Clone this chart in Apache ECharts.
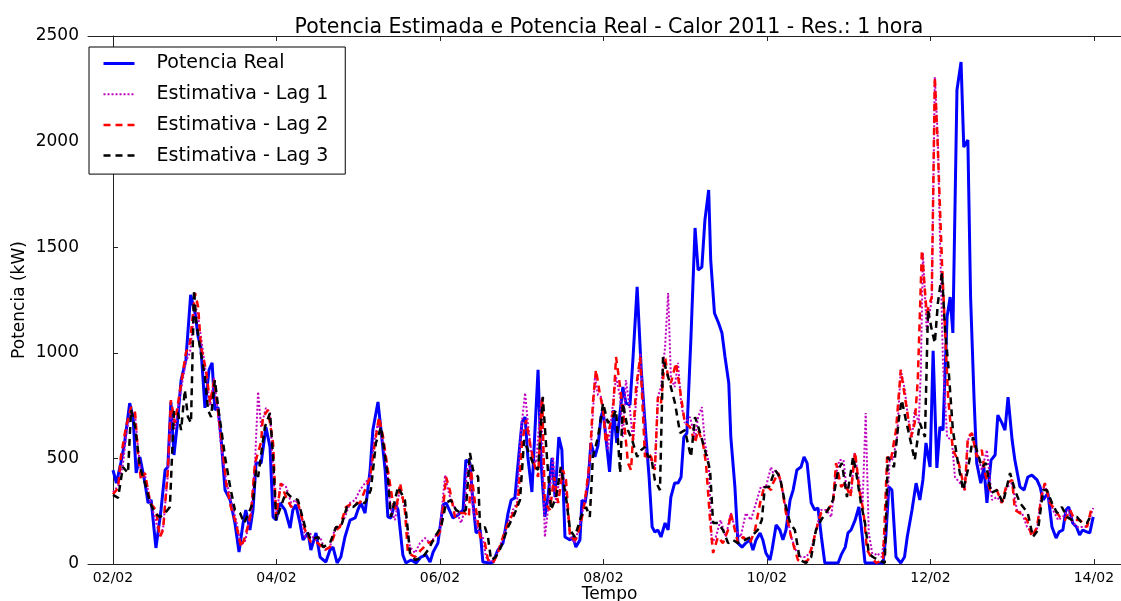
<!DOCTYPE html>
<html>
<head>
<meta charset="utf-8">
<script src="https://cdn.jsdelivr.net/npm/echarts@6/dist/echarts.min.js"></script>
<style>html,body{margin:0;padding:0;background:#fff}#c{width:1121px;height:601px}</style>
</head>
<body>
<div id="c"></div>
<script>
// hours since 02/02 00:00 -> kW
const tickHours = [0, 48, 96, 144, 192, 240, 288];
const tickLabels = ['02/02', '04/02', '06/02', '08/02', '10/02', '12/02', '14/02'];
const seriesNames = ['Potencia Real', 'Estimativa - Lag 1', 'Estimativa - Lag 2', 'Estimativa - Lag 3'];

const realData = [[0,445],[1,383],[2.3,478],[3.4,573],[4.9,762],[5.9,696],[6.8,431],[7.9,507],[9.4,383],[10.3,289],[11.2,303],[12.6,76],[14.1,256],[15.3,445],[16.1,459],[17.0,767],[17.9,516],[18.8,649],[20.0,871],[21.4,966],[22.8,1274],[24.1,1188],[25.0,1075],[25.8,1028],[27.0,739],[28.2,919],[29.1,952],[29.9,729],[30.8,743],[31.7,601],[32.9,350],[34.4,303],[35.8,194],[37.0,57],[38.2,194],[39.0,256],[40.2,161],[41.1,256],[42.0,478],[43.5,478],[44.9,649],[46.1,554],[47.0,223],[47.9,208],[49.0,289],[50.5,256],[52.0,170],[52.8,256],[53.7,280],[54.9,194],[55.8,114],[57.3,147],[58.1,66],[59.6,147],[60.8,33],[62.5,9],[63.7,66],[64.6,80],[65.8,5],[66.9,33],[68.1,128],[69.6,208],[71.1,218],[71.9,256],[72.8,289],[74.0,241],[75.5,445],[76.3,634],[77.8,767],[78.7,634],[79.9,445],[80.7,223],[81.6,218],[82.8,289],[83.7,256],[85.1,43],[86.0,5],[87.5,19],[89.0,5],[90.4,33],[91.9,43],[93.1,9],[94.0,57],[95.4,99],[96.9,280],[97.8,289],[99.8,218],[101.3,232],[102.8,256],[103.6,492],[104.8,478],[105.7,289],[106.6,147],[107.8,161],[108.6,9],[110.7,5],[111.6,9],[113.0,66],[114.5,99],[116.0,241],[116.9,303],[118.0,313],[119.5,573],[120.1,672],[121.0,696],[121.8,507],[123.0,341],[123.9,634],[124.8,919],[125.7,478],[126.8,223],[127.7,317],[128.9,502],[129.8,317],[130.9,601],[131.8,540],[132.7,128],[134.2,114],[135.1,128],[135.9,80],[137.1,114],[137.7,303],[138.6,289],[139.5,383],[140.3,573],[141.5,507],[142.4,560],[143.3,696],[143.9,729],[144.7,601],[145.8,436],[147.0,729],[147.9,573],[149.7,838],[150.6,762],[151.8,753],[152.7,980],[153.9,1312],[155.1,919],[156.5,601],[157.4,412],[158.3,175],[159.1,152],[160.0,161],[160.9,128],[162.1,194],[163.0,161],[163.8,317],[164.9,383],[165.9,383],[166.8,412],[167.6,601],[168.5,620],[169.7,1075],[170.9,1591],[171.8,1392],[172.9,1406],[173.8,1629],[174.9,1771],[175.5,1439],[176.6,1188],[177.8,1141],[178.8,1094],[179.7,980],[180.8,857],[181.4,601],[182.6,365],[183.5,99],[184.7,80],[185.8,99],[187.0,114],[187.9,66],[188.8,114],[190.0,147],[190.8,114],[191.7,52],[192.9,19],[193.5,66],[194.7,185],[195.8,161],[196.7,114],[197.6,161],[198.8,303],[199.7,350],[200.8,445],[202.0,459],[202.9,507],[203.8,478],[205.0,289],[206.0,256],[207.0,265],[208.0,128],[209.0,5],[212.9,5],[213.8,43],[215.0,80],[215.8,147],[216.7,161],[217.9,208],[219.0,270],[219.6,194],[220.8,5],[226.1,5],[226.9,128],[227.8,365],[228.7,350],[229.9,33],[231.3,5],[232.4,33],[233.2,128],[234.6,256],[235.8,383],[236.9,303],[237.8,398],[238.7,573],[239.9,459],[240.8,1010],[241.9,455],[242.8,649],[243.7,634],[244.9,1170],[245.8,1264],[246.6,1094],[247.8,2244],[249.0,2377],[249.8,1974],[251.0,2008],[251.8,1264],[252.8,791],[253.6,478],[254.8,383],[255.7,459],[256.6,289],[257.8,492],[259.0,516],[259.8,705],[261.0,668],[261.9,634],[262.8,790],[264.0,587],[264.8,492],[266.3,365],[267.5,350],[268.6,412],[269.8,421],[271.3,398],[272.2,365],[273.1,303],[274.5,336],[275.7,175],[276.9,123],[277.8,152],[278.9,161],[279.8,256],[280.6,270],[281.8,194],[282.9,175],[283.8,137],[284.7,161],[285.9,152],[286.8,147],[287.8,223]];

const lag1Data = [[0,340],[1.5,370],[2.9,470],[4.1,640],[5.3,720],[6.5,700],[7.3,560],[8.2,430],[9.4,420],[10.9,300],[12.6,200],[13.8,130],[14.7,170],[16.1,420],[17.0,720],[18.2,640],[19.7,800],[21.4,960],[22.6,1000],[24.1,1230],[25.0,1170],[25.8,1080],[27.3,900],[28.5,750],[29.7,880],[30.8,720],[31.7,560],[33.2,400],[34.6,300],[36.1,210],[37.6,90],[38.8,110],[40.5,230],[41.7,480],[42.6,815],[43.5,649],[44.9,739],[46.1,715],[47.0,445],[47.9,223],[49.3,383],[50.8,365],[52.3,289],[53.7,303],[55.2,241],[56.4,128],[57.8,147],[59.3,114],[60.8,128],[62.2,66],[63.7,80],[65.2,170],[66.6,175],[68.1,223],[69.6,289],[71.1,303],[72.5,350],[74.0,383],[75.5,412],[76.6,573],[77.8,668],[79.3,573],[80.2,492],[81.6,256],[82.8,208],[84.3,365],[85.7,256],[87.2,80],[88.7,52],[90.1,99],[91.6,123],[93.1,99],[94.5,128],[96.0,161],[97.5,421],[98.4,350],[99.2,303],[100.7,256],[102.2,194],[103.3,256],[103.9,445],[104.8,478],[105.7,256],[107.2,161],[108.6,128],[109.5,33],[111.0,9],[112.4,33],[113.9,99],[116.0,194],[117.4,256],[118.6,289],[119.8,634],[121.0,810],[121.8,668],[123.0,507],[124.2,478],[125.7,776],[126.8,128],[127.7,256],[129.2,507],[130.1,289],[131.5,459],[132.7,383],[134.2,128],[135.6,99],[137.1,194],[138.6,303],[139.5,412],[140.3,540],[141.5,885],[142.4,800],[143.3,791],[143.9,743],[145.3,540],[146.8,762],[147.7,885],[148.9,791],[149.7,601],[150.6,871],[151.8,729],[152.7,573],[153.6,776],[154.8,999],[155.6,791],[156.5,507],[158.0,492],[159.1,445],[160.0,791],[160.9,838],[162.1,1028],[163.0,1283],[163.8,885],[164.9,838],[165.9,952],[166.8,762],[167.9,668],[169.4,696],[170.9,601],[171.8,696],[172.9,743],[173.8,573],[174.9,478],[175.8,99],[177.0,128],[178.4,208],[179.9,128],[181.4,241],[182.8,161],[184.3,128],[185.8,241],[187.3,208],[188.8,289],[190.2,365],[191.7,365],[193.2,459],[193.8,431],[194.7,445],[196.2,383],[197.6,256],[199.1,128],[200.5,66],[202.0,33],[203.5,33],[205.0,66],[206.4,161],[207.9,256],[209.4,256],[210.9,223],[212.1,412],[213.3,492],[214.5,492],[215.4,350],[216.8,336],[217.7,526],[218.9,412],[220.1,289],[221.0,715],[221.9,147],[223.1,33],[224.3,52],[225.7,33],[226.9,175],[228.1,507],[229.0,492],[230.2,601],[231.3,919],[232.5,824],[233.4,696],[234.6,601],[235.4,729],[236.6,668],[237.2,919],[237.8,1473],[238.9,1108],[240.4,1250],[241.3,2306],[242.2,2008],[242.8,1548],[243.7,952],[244.9,601],[246.3,587],[247.2,412],[248.7,383],[250.1,350],[251.0,587],[252.2,620],[253.6,526],[255.1,445],[256.6,540],[258.1,303],[259.5,317],[261.0,289],[262.5,365],[264.0,383],[265.4,256],[266.9,241],[268.4,175],[269.8,147],[271.3,161],[272.2,289],[273.6,383],[274.5,317],[276.0,256],[277.5,208],[278.9,223],[280.4,256],[281.9,194],[283.3,175],[285.4,175],[286.3,194],[287.8,265]];

const lag2Data = [[0,330],[1.5,360],[2.3,507],[3.8,649],[5.3,743],[6.5,715],[7.3,526],[8.2,398],[9.4,431],[10.9,289],[12.6,256],[13.8,128],[14.7,161],[16.1,445],[17.0,776],[18.2,668],[19.7,824],[21.4,999],[22.6,1046],[24.1,1283],[25.0,1217],[25.8,1028],[27.3,919],[28.5,762],[29.7,871],[30.8,729],[31.7,620],[33.2,383],[34.6,270],[36.1,194],[37.6,80],[38.8,128],[40.5,241],[41.7,478],[43.5,578],[44.0,696],[45.5,729],[47.0,573],[47.9,223],[49.3,383],[50.8,317],[52.3,270],[54.3,289],[56.4,161],[58.1,104],[60.2,99],[62.2,66],[63.7,80],[65.5,161],[66.6,175],[68.4,270],[70.5,289],[72.5,289],[74.0,350],[75.5,412],[76.9,573],[78.1,696],[79.3,601],[80.7,445],[82.2,289],[83.1,256],[84.3,383],[85.7,256],[86.6,52],[88.7,33],[90.4,66],[92.5,99],[94.5,114],[96.3,161],[97.8,412],[98.9,350],[100.4,223],[101.9,241],[103.3,241],[104.5,223],[105.1,445],[106.3,289],[107.8,128],[109.2,99],[110.1,19],[111.6,5],[113.0,52],[114.5,128],[116.0,194],[118.0,256],[118.9,289],[120.1,573],[121.3,682],[122.4,573],[123.6,478],[124.8,412],[126.0,791],[126.8,289],[128.3,256],[129.5,412],[130.7,289],[132.1,445],[133.0,398],[134.2,128],[135.9,114],[137.4,194],[138.6,303],[140.0,492],[140.9,762],[141.8,919],[142.9,810],[143.9,729],[144.7,573],[146.8,715],[147.7,980],[148.9,838],[150.3,634],[151.2,478],[152.1,445],[153.6,838],[154.8,980],[156.2,507],[157.1,526],[158.0,507],[159.1,445],[160.0,791],[160.9,762],[162.1,980],[163.0,885],[163.8,857],[165.3,952],[166.8,791],[167.9,668],[169.4,649],[170.9,573],[171.8,634],[173.2,573],[174.1,478],[175.3,208],[176.2,52],[177.6,128],[179.1,99],[180.6,161],[181.4,241],[183.5,99],[185.0,128],[187.0,99],[188.5,161],[190.0,289],[191.2,365],[192.3,365],[193.2,350],[193.8,383],[195.3,431],[196.2,383],[197.6,241],[199.1,128],[201.1,19],[202.6,5],[204.1,19],[205.5,99],[207.0,194],[207.9,241],[209.9,256],[211.4,289],[212.3,478],[213.8,365],[215.0,383],[216.5,317],[217.9,531],[219.1,350],[220.3,256],[221.4,66],[222.6,33],[224.1,5],[226.1,19],[227.3,507],[228.4,492],[229.9,634],[231.3,919],[232.8,762],[234.3,601],[235.4,668],[236.3,871],[237.5,1487],[238.9,1188],[240.4,1264],[241.3,2306],[242.2,1960],[243.4,1425],[244.3,1108],[245.2,791],[246.6,540],[248.1,492],[250.1,350],[251.0,601],[252.2,620],[253.6,507],[255.1,540],[256.0,431],[257.5,350],[259.5,350],[261.0,289],[262.5,383],[264.0,398],[264.8,256],[266.3,241],[268.4,208],[269.8,128],[271.3,175],[272.8,336],[273.6,383],[275.1,289],[276.6,256],[278.0,223],[279.5,208],[281.0,256],[282.4,208],[283.9,208],[286.0,175],[287.4,270]];

const lag3Data = [[0,327],[1.5,313],[2.9,459],[4.4,431],[5.3,729],[6.5,649],[7.9,459],[9.4,383],[10.9,289],[12.3,241],[13.8,223],[15.3,241],[16.7,270],[17.9,729],[19.1,715],[20.0,634],[21.1,824],[22.0,696],[22.9,668],[23.8,1297],[24.4,1155],[25.5,1028],[27.0,885],[27.9,729],[28.8,696],[29.9,871],[31.1,715],[31.7,649],[32.9,507],[34.4,365],[35.8,256],[37.3,241],[38.5,194],[40.2,256],[41.1,289],[42.0,445],[42.6,412],[44.6,649],[46.1,715],[47.0,507],[47.9,208],[50.8,341],[52.3,317],[54.3,303],[56.4,175],[58.1,114],[60.2,128],[61.7,80],[63.7,99],[65.5,175],[66.9,175],[68.7,270],[70.5,270],[71.9,289],[74.0,289],[75.7,350],[77.2,573],[78.7,649],[79.9,507],[80.7,412],[81.6,223],[83.7,365],[85.7,303],[87.2,52],[88.7,19],[91.0,33],[92.5,66],[94.5,128],[96.3,175],[97.8,289],[99.2,303],[100.7,256],[102.2,241],[103.6,256],[104.8,526],[105.7,445],[107.2,412],[107.8,161],[109.2,175],[110.1,128],[111.0,19],[112.4,33],[113.9,80],[116.0,175],[118.0,241],[119.5,303],[120.7,587],[121.8,540],[123.3,478],[124.8,445],[126.2,791],[127.4,507],[128.6,256],[130.1,317],[131.5,459],[133.0,317],[134.2,161],[135.6,128],[137.4,223],[138.9,270],[140.0,223],[140.9,507],[142.4,600],[143.9,762],[145.3,668],[146.8,696],[147.7,729],[148.9,431],[149.7,762],[151.2,634],[152.7,573],[153.9,507],[155.1,540],[156.2,554],[157.1,507],[158.0,507],[159.1,398],[160.6,350],[161.5,980],[162.4,919],[163.5,857],[165.0,762],[166.5,620],[167.9,634],[169.7,507],[170.9,696],[172.4,620],[173.8,540],[175.3,445],[176.2,194],[177.6,194],[179.1,161],[180.6,99],[182.0,114],[183.5,99],[185.5,114],[187.3,128],[189.3,161],[190.5,208],[191.4,365],[192.6,365],[194.4,445],[195.8,412],[197.3,289],[198.8,194],[200.2,161],[201.7,19],[203.5,5],[205.0,33],[206.4,161],[207.9,208],[209.9,256],[211.4,303],[212.9,445],[214.0,478],[215.5,317],[217.3,507],[218.1,445],[219.6,289],[220.8,194],[221.9,52],[223.1,33],[224.6,19],[226.6,5],[227.5,507],[229.3,459],[230.8,696],[231.6,776],[232.8,682],[234.3,573],[235.4,492],[236.9,668],[238.4,601],[239.3,1203],[240.4,1108],[241.3,1046],[242.2,1236],[243.4,1378],[244.3,1108],[245.2,952],[246.6,634],[248.1,478],[249.6,350],[251.0,445],[252.5,601],[253.6,540],[255.1,459],[256.3,478],[257.8,336],[259.5,350],[261.3,289],[263.4,431],[264.8,350],[266.3,289],[268.6,241],[270.1,128],[271.6,161],[273.1,350],[274.2,350],[275.7,289],[277.2,241],[278.6,270],[280.1,223],[281.6,208],[283.0,223],[284.5,194],[286.0,194],[287.4,241]];

const FONT = 'DejaVu Sans';
const chart = echarts.init(document.getElementById('c'), null, {renderer: 'canvas'});

const dayLabel = v => {
  const i = tickHours.indexOf(Math.round(v));
  return i >= 0 ? tickLabels[i] : '';
};

const axisLineStyle = {color: '#222', width: 1};
const styles = [
  {color: '#0000ff', width: 3, type: 'solid'},
  {color: '#bf00bf', width: 2, type: [2, 2]},
  {color: '#ff0000', width: 2.5, type: [7, 5]},
  {color: '#000000', width: 2.5, type: [7, 5]}
];

chart.setOption({
  animation: false,
  backgroundColor: '#fff',
  title: {
    text: 'Potencia Estimada e Potencia Real - Calor 2011 - Res.: 1 hora',
    left: 604, top: 12, textAlign: 'center',
    textStyle: {fontFamily: FONT, fontSize: 20.5, fontWeight: 'normal', color: '#000'}
  },
  legend: {
    data: seriesNames.map((n, i) => ({name: n, lineStyle: styles[i]})),
    orient: 'vertical',
    left: 89, top: 47,
    itemWidth: 31, itemHeight: 14, itemGap: 9.7,
    padding: [6, 17, 8, 13],
    backgroundColor: '#fff',
    borderColor: '#000', borderWidth: 1, borderRadius: 0,
    itemStyle: {opacity: 0},
    textStyle: {fontFamily: FONT, fontSize: 19, color: '#000', lineHeight: 21, padding: [0, 0, 0, 17]},
    selectedMode: false
  },
  grid: {left: 88, right: -10, top: 36, bottom: 37, containLabel: false, outerBoundsMode: 'none'},
  xAxis: [{
    type: 'value', min: -7.34, max: 298.9, position: 'bottom',
    name: 'Tempo', nameLocation: 'middle', nameGap: 22, nameMoveOverlap: false,
    nameTextStyle: {fontFamily: FONT, fontSize: 17, color: '#000'},
    axisLine: {show: true, lineStyle: axisLineStyle, onZero: false},
    axisTick: {show: true, inside: true, length: 5, customValues: tickHours, lineStyle: axisLineStyle},
    axisLabel: {show: true, customValues: tickHours, formatter: dayLabel, fontFamily: FONT, fontSize: 14, color: '#000', margin: 7},
    splitLine: {show: false}
  }, {
    type: 'value', min: -7.34, max: 298.9, position: 'top',
    axisLine: {show: true, lineStyle: axisLineStyle, onZero: false},
    axisTick: {show: true, inside: true, length: 5, customValues: tickHours, lineStyle: axisLineStyle},
    axisLabel: {show: false},
    splitLine: {show: false}
  }],
  yAxis: [{
    type: 'value', min: 0, max: 2500, interval: 500,
    name: 'Potencia (kW)', nameLocation: 'middle', nameGap: 60, nameRotate: 90, nameMoveOverlap: false,
    nameTextStyle: {fontFamily: FONT, fontSize: 17, color: '#000'},
    axisLine: {show: true, lineStyle: axisLineStyle},
    axisTick: {show: true, inside: true, length: 5, lineStyle: axisLineStyle},
    axisLabel: {fontFamily: FONT, fontSize: 17, color: '#000', margin: 9, formatter: v => String(v)},
    splitLine: {show: false}
  }],
  series: [
    {name: seriesNames[0], type: 'line', data: realData, symbol: 'none', showSymbol: false,
     lineStyle: styles[0], itemStyle: {color: styles[0].color}, z: 2},
    {name: seriesNames[1], type: 'line', data: lag1Data, symbol: 'none', showSymbol: false,
     lineStyle: styles[1], itemStyle: {color: styles[1].color}, z: 3},
    {name: seriesNames[2], type: 'line', data: lag2Data, symbol: 'none', showSymbol: false,
     lineStyle: styles[2], itemStyle: {color: styles[2].color}, z: 4},
    {name: seriesNames[3], type: 'line', data: lag3Data, symbol: 'none', showSymbol: false,
     lineStyle: styles[3], itemStyle: {color: styles[3].color}, z: 5}
  ]
});
</script>
</body>
</html>
